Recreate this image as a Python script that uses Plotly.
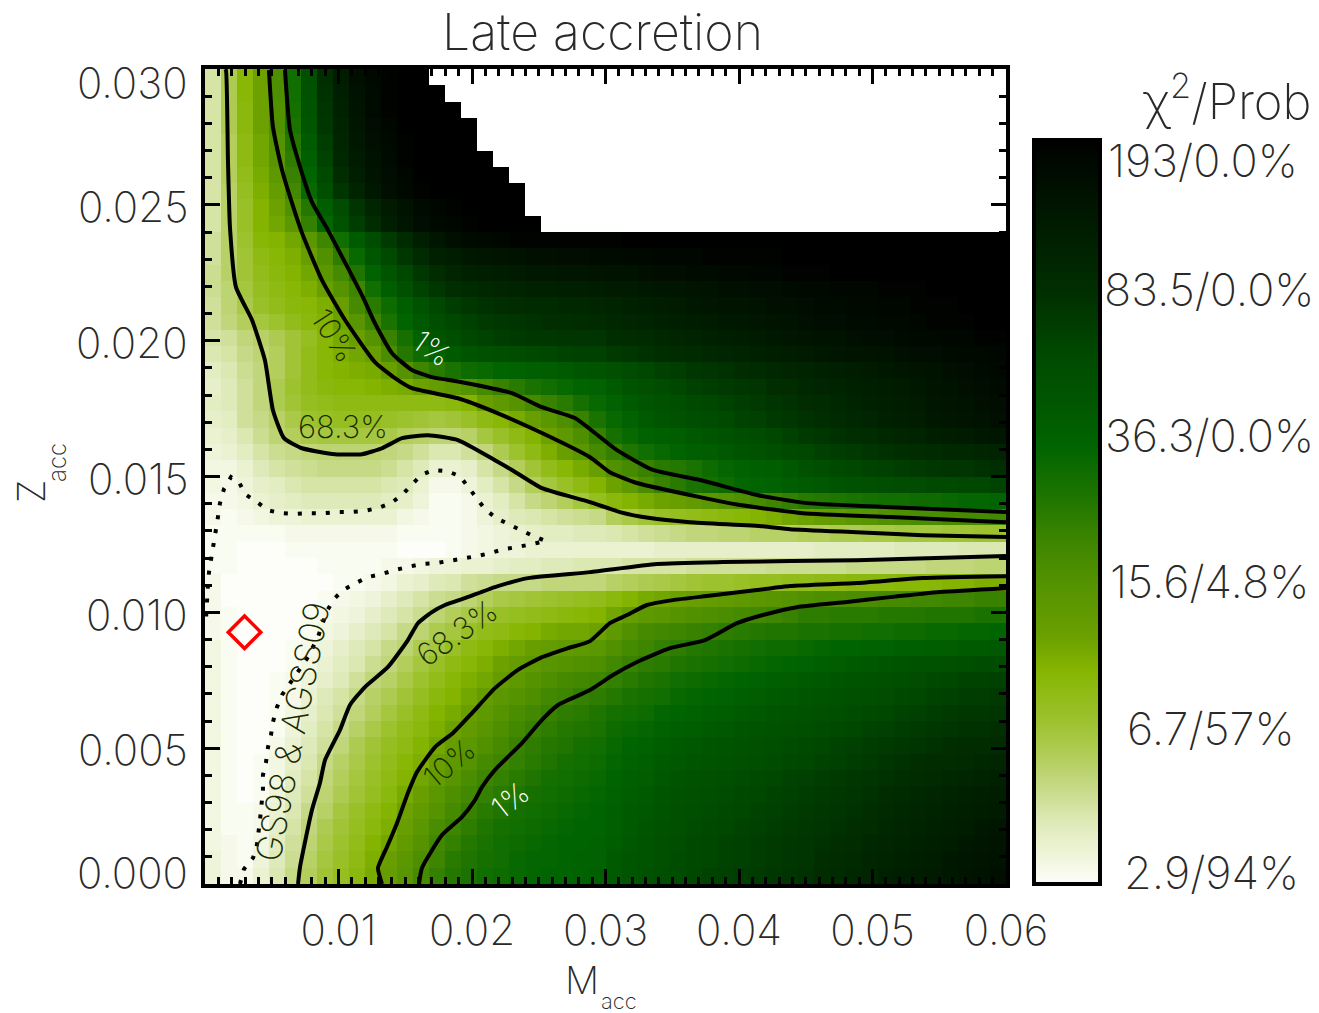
import plotly.graph_objects as go

FONT = "Inter"
WEIGHT = 200
TXT = "#2a2a2a"

m_acc_edges_step = 0.0012
z_acc_edges_step = 0.0006
m_acc_cells = [m_acc_edges_step * (i + 0.5) for i in range(50)]
z_acc_cells = [z_acc_edges_step * (j + 0.5) for j in range(50)]

# Position on the chi2 colour bar (0 = 2.9, 100 = 193; logarithmic), row 0 is Zacc = 0
chi2_level = [
[4,2,2,5,9,13,17,21,24,27,31,35,39,44,48,51,53,55,56,57,58,59,59,60,61,63,65,67,69,70,72,73,74,75,76,77,78,79,81,82,83,84,86,87,88,89,90,92,93,94],
[4,2,1,4,8,12,16,20,23,26,30,34,38,42,46,50,52,54,55,57,58,58,59,60,60,63,65,66,68,70,71,72,73,74,75,76,77,78,80,81,82,84,85,86,87,88,90,91,92,93],
[3,2,1,3,7,11,15,19,22,25,29,32,36,40,45,48,51,53,55,56,57,58,59,59,60,62,64,66,68,69,71,72,73,74,75,76,77,78,79,80,81,83,84,85,86,87,88,90,91,92],
[3,1,1,2,6,10,14,18,21,24,27,30,34,38,43,46,49,52,54,55,56,57,58,59,59,61,63,65,67,68,70,71,72,73,74,75,76,77,78,79,80,81,83,84,85,86,87,88,90,91],
[3,1,1,2,5,9,13,16,20,23,26,29,33,36,40,44,47,50,52,54,55,56,57,58,59,61,63,64,66,68,69,70,71,72,73,74,75,76,77,78,79,80,82,83,84,85,86,87,88,89],
[3,1,0,1,4,8,11,15,18,21,24,27,31,34,38,42,45,48,50,52,54,55,56,57,58,60,62,63,65,67,68,69,70,71,72,73,74,75,76,77,78,79,81,82,83,84,85,86,87,88],
[3,1,0,1,3,7,10,14,17,20,23,26,29,32,35,39,43,46,48,50,52,54,55,56,57,59,61,62,64,66,67,68,69,70,71,72,73,74,75,76,77,78,79,80,81,82,83,84,85,86],
[3,1,0,1,3,6,9,13,16,19,22,25,28,30,34,37,40,44,46,48,50,52,54,55,56,58,60,61,63,64,65,66,67,68,69,70,71,72,73,74,75,76,78,79,80,81,81,82,83,84],
[3,1,0,0,2,5,8,11,14,18,21,24,26,29,32,35,38,41,44,47,49,51,52,54,55,57,59,60,62,63,64,65,66,67,68,69,70,71,72,73,74,75,76,77,78,79,80,81,81,82],
[3,1,0,0,1,4,7,10,13,16,19,22,25,27,30,33,36,39,42,45,47,49,51,52,53,56,57,58,60,61,62,63,64,65,66,67,68,69,70,71,72,73,74,75,76,77,78,79,79,80],
[3,1,0,0,1,3,6,9,11,14,17,20,23,26,29,31,34,37,40,43,45,47,49,50,52,54,55,56,58,59,60,61,62,63,64,65,66,67,68,69,70,71,72,73,74,75,76,77,77,78],
[3,1,0,0,1,2,5,8,10,13,16,18,21,24,27,29,32,35,38,40,42,45,46,48,49,51,53,54,55,57,58,59,60,61,62,63,64,65,66,67,68,69,70,71,72,73,74,75,75,76],
[3,1,0,0,1,2,4,6,8,11,14,16,19,22,25,28,30,32,35,37,40,42,44,45,46,48,50,52,53,55,56,57,58,59,60,61,62,63,64,65,66,67,68,69,70,71,72,73,73,74],
[3,1,0,0,0,1,3,5,7,9,12,14,17,20,23,26,28,30,33,35,37,39,40,41,42,45,47,49,50,52,53,54,55,56,57,58,59,60,61,62,63,64,65,66,67,67,68,69,70,70],
[3,1,0,0,0,1,2,4,6,8,10,13,15,18,20,23,26,28,30,32,34,35,36,37,38,41,44,46,48,49,51,52,53,54,55,56,56,57,58,59,59,60,60,61,61,62,62,63,63,64],
[2,1,0,0,0,0,1,3,4,6,8,10,13,15,18,20,23,25,26,28,29,31,32,32,33,37,41,44,45,46,47,48,49,50,51,52,52,53,53,54,54,55,55,56,56,57,57,58,58,59],
[2,1,0,0,0,0,1,2,3,4,6,8,10,12,15,17,19,21,23,24,25,26,27,28,29,32,35,37,38,40,41,42,43,44,45,46,47,49,49,50,50,50,51,51,51,52,52,52,53,53],
[2,0,0,0,0,0,0,1,2,3,4,6,8,10,12,13,15,17,19,20,21,22,23,24,25,27,29,31,32,33,34,35,36,37,38,39,40,41,42,42,43,43,44,44,45,45,46,46,47,47],
[2,0,0,0,0,0,0,0,1,1,2,3,5,6,8,9,11,12,13,13,13,14,14,14,14,16,17,18,19,20,21,22,22,23,24,24,25,25,26,26,27,27,27,28,28,28,29,29,30,30],
[1,1,0,0,0,0,0,1,1,1,1,2,2,3,4,4,5,5,6,7,7,8,8,9,9,9,10,10,10,10,11,11,11,11,11,12,12,12,12,12,13,13,13,13,13,14,14,14,15,15],
[1,1,0,0,0,1,1,1,1,1,1,1,0,0,0,1,2,3,4,4,5,5,5,5,5,5,5,5,6,6,6,6,6,6,6,6,6,6,7,7,7,7,7,8,8,8,8,9,9,9],
[1,1,1,1,1,2,2,2,2,2,2,2,1,1,1,1,2,3,4,5,6,7,7,8,8,9,10,11,12,13,14,14,15,15,16,16,16,17,17,18,18,19,19,20,20,20,21,21,22,22],
[2,1,2,3,4,4,5,5,5,5,5,5,3,2,1,1,2,4,6,8,9,10,11,12,13,17,19,21,23,24,25,26,27,28,29,30,32,33,35,36,38,39,41,42,43,43,44,44,44,45],
[2,2,3,5,6,7,8,8,8,8,8,7,6,4,1,1,2,5,7,10,13,15,17,20,24,27,29,31,33,34,36,38,40,42,44,46,48,50,51,52,53,54,55,55,56,56,57,58,58,59],
[3,2,4,6,7,9,10,10,10,10,10,9,8,5,2,2,4,7,10,13,17,20,23,26,29,33,37,43,47,50,53,54,56,58,59,60,62,63,64,66,67,68,69,70,70,71,71,72,72,73],
[3,3,5,8,10,11,12,13,13,13,13,12,10,8,5,5,6,10,13,17,21,25,28,31,34,41,44,47,50,51,53,56,58,60,61,62,64,67,69,71,72,73,74,75,76,77,78,78,79,80],
[4,5,7,10,12,13,14,15,15,15,15,14,13,11,9,9,11,14,18,22,26,30,34,38,44,48,52,55,57,59,61,62,64,66,67,69,71,72,74,75,76,78,79,80,81,82,83,83,84,85],
[5,6,9,12,15,17,19,20,20,20,20,19,17,16,15,15,16,20,23,26,29,33,37,42,48,54,57,60,61,62,64,65,67,69,70,72,74,76,77,79,80,81,83,84,85,87,88,89,90,91],
[6,7,11,13,16,19,22,23,24,24,24,23,22,21,20,21,23,26,28,31,34,38,42,47,53,57,60,63,65,67,69,70,71,73,74,76,77,79,80,82,83,84,86,87,88,90,91,92,93,94],
[7,8,11,14,18,21,24,25,26,26,26,26,26,26,26,27,29,34,37,40,44,47,50,54,57,60,63,65,67,69,71,72,73,75,76,78,79,81,82,83,85,86,87,88,89,91,92,93,94,95],
[6,8,11,14,18,22,25,27,28,28,29,30,31,33,35,37,40,44,47,50,53,55,57,59,60,63,66,68,70,72,74,75,76,77,78,80,81,83,84,85,86,87,88,89,90,92,93,94,95,96],
[7,9,12,14,17,21,25,28,29,30,31,34,40,46,50,53,56,57,59,60,61,62,63,65,66,68,70,72,74,75,77,78,79,81,82,83,84,85,86,87,88,89,90,91,92,93,94,95,96,97],
[9,10,13,15,17,21,25,28,30,32,34,43,51,56,60,63,66,68,69,70,71,72,73,74,74,76,77,79,80,81,82,83,84,85,86,87,88,89,90,91,92,92,93,94,95,95,96,97,97,98],
[10,11,14,16,18,21,24,28,31,34,40,47,54,60,66,69,72,73,75,76,77,77,78,78,78,80,81,82,83,84,85,86,87,88,89,90,91,92,93,93,94,95,95,96,97,97,98,98,99,99],
[11,14,17,20,22,25,27,29,33,39,46,53,59,64,69,72,74,76,77,78,79,80,80,81,82,83,84,85,86,87,88,89,90,90,91,92,93,94,95,95,96,96,97,97,98,99,99,99,100,100],
[11,15,19,23,25,27,28,30,34,44,50,56,62,67,72,75,77,79,80,81,82,82,83,83,84,85,86,87,88,89,90,91,92,92,93,94,94,95,96,96,97,97,98,98,99,99,99,100,100,100],
[12,15,20,24,26,28,30,34,40,46,55,62,68,73,77,80,82,83,84,85,86,86,87,87,88,89,89,90,91,91,92,93,94,94,95,95,96,97,97,98,98,98,99,99,99,100,100,100,100,100],
[12,16,21,25,27,29,32,38,44,52,60,66,72,77,81,84,86,87,88,89,90,90,91,91,92,93,93,94,95,95,96,96,97,97,98,98,99,99,99,100,100,100,100,100,100,100,100,100,100,100],
[11,16,21,26,28,30,34,41,49,57,65,71,77,82,86,88,90,91,92,93,94,94,95,95,96,96,97,97,98,98,98,99,99,99,99,99,100,100,100,100,100,100,100,100,100,100,100,100,100,100],
[11,16,22,28,29,32,38,46,55,63,70,76,82,87,91,94,96,97,98,99,99,99,99,99,99,99,100,100,100,100,100,100,100,100,100,100,100,100,100,100,100,100,100,100,100,100,100,100,100,100],
[10,16,23,29,32,38,48,58,67,75,81,87,91,95,97,98,99,100,100,100,100],
[10,16,23,29,33,41,51,62,70,78,84,89,93,96,98,99,100,100,100,100],
[10,16,24,30,35,45,57,69,78,85,90,94,97,99,100,100,100,100,100,100],
[10,17,25,31,37,47,59,71,81,87,92,95,98,100,100,100,100,100,100],
[10,17,26,32,39,49,61,73,83,89,93,96,99,100,100,100,100,100],
[10,17,26,32,40,51,63,75,84,90,94,97,99,100,100,100,100],
[10,18,27,33,41,53,65,77,85,91,95,98,100,100,100,100,100],
[10,18,27,33,41,54,66,78,86,92,96,99,100,100,100,100],
[10,18,28,33,42,55,67,79,87,93,96,99,100,100,100],
[10,18,28,33,42,55,68,80,88,94,97,99,100,100],
]

colour_stops = [
    (0.0, "#fdfef9"), (0.086, "#dde9b5"), (0.131, "#c5d985"), (0.176, "#b0cc55"),
    (0.22, "#9cc22e"), (0.288, "#85b500"), (0.332, "#6ba000"), (0.417, "#4f9000"),
    (0.46, "#3e8500"), (0.529, "#1a7300"), (0.589, "#006400"), (0.642, "#005800"),
    (0.709, "#004a00"), (0.795, "#002f00"), (0.884, "#001c00"), (0.973, "#000800"),
    (1.0, "#000000"),
]

# Contours: Macc and Zacc, in units of 1e-3
c68_top_m = [1.50,1.57,1.72,1.87,2.32,3.52,4.49,5.09,5.92,7.27,9.74,11.76,13.26,14.76,16.70,18.95,21.72,22.99,25.24,28.84,31.08,33.33,36.33,41.79,43.82,48.83,53.78,60]
c68_top_z = [30,29.96,26.64,24.18,21.97,20.76,19.28,17.44,16.41,16.04,15.82,15.82,16.04,16.41,16.52,16.34,15.60,15.24,14.57,14.06,13.69,13.47,13.32,13.17,13.06,12.95,12.84,12.77]
c10_top_m = [4.79,5.09,5.77,6.52,7.27,8.76,10.49,12.73,14.23,15.50,18.95,21.72,25.24,28.84,30.33,32.36,37.08,40.07,44.79,51.31,60]
c10_top_z = [29.96,27.86,26.28,25.06,23.96,22.23,20.76,19.21,18.62,18.25,17.88,17.37,16.60,15.71,15.16,14.76,14.24,13.95,13.65,13.51,13.32]
c1_top_m = [5.99,6.37,7.27,8.01,9.21,11.83,12.73,14.01,15.50,17.00,19.25,22.99,25.24,27.71,29.21,30.86,33.56,37.08,41.34,45.09,51.31,60]
c1_top_z = [29.96,27.75,26.16,25.10,24.07,21.60,20.64,19.54,18.92,18.66,18.47,18.07,17.55,17.15,16.60,15.97,15.24,14.87,14.32,14.02,13.87,13.69]
c68_low_m = [6.97,7.12,8.01,8.61,8.99,10.11,10.86,11.98,13.71,15.20,15.95,17.00,17.98,19.47,21.72,24.19,28.84,33.85,38.80,48.83,60]
c68_low_z = [0,0.63,2.72,3.72,4.56,5.67,6.59,7.25,7.99,8.98,9.60,10.01,10.27,10.52,10.93,11.26,11.48,11.78,11.85,11.92,12.07]
c10_low_m = [13.26,12.96,13.63,14.38,15.20,15.88,17.23,18.58,20.00,21.72,23.44,25.24,27.19,28.84,30.33,31.61,33.11,35.05,37.60,41.34,43.82,48.83,53.78,60]
c10_low_z = [0,0.59,1.36,2.24,3.35,4.12,5.04,5.56,6.29,7.21,7.88,8.35,8.68,8.94,9.60,9.90,10.27,10.45,10.60,10.82,10.97,11.08,11.26,11.33]
c1_low_m = [16.03,16.25,17.75,19.25,20.22,20.75,21.72,23.74,25.24,26.44,28.84,30.56,32.36,34.83,37.45,39.85,41.79,44.34,48.09,51.31,55.05,60]
c1_low_z = [0,0.59,1.80,2.47,3.09,3.57,4.20,5.19,6.04,6.59,7.14,7.69,8.17,8.68,8.98,9.60,9.90,10.19,10.38,10.56,10.75,10.89]
solar_m = [2.62,2.92,3.60,3.89,4.12,4.34,4.34,4.57,4.72,4.94,5.09,5.39,5.77,7.71,8.46,8.84,9.14,9.66,10.34,11.31,12.21,13.26,14.23,15.20,16.25,17.30,18.35,19.32,20.37,21.35,22.40,23.37,24.49,25.54,24.57,23.59,22.69,21.80,20.97,20.37,19.70,19.10,18.13,17.08,16.18,15.50,14.76,13.93,12.96,11.91,10.94,9.89,8.84,7.79,6.74,5.69,4.72,3.89,3.00,2.55,1.95,1.42,1.12,0.97,0.82,0.60,0.45,0.30,0.22,0.07]
solar_z = [0,0.55,0.96,1.44,2.36,3.46,4.01,4.49,5.04,5.48,5.96,6.51,6.96,8.35,9.09,9.60,10.05,10.49,10.82,11.08,11.30,11.41,11.56,11.67,11.78,11.81,11.89,12.00,12.07,12.18,12.33,12.40,12.51,12.62,12.81,13.03,13.25,13.47,13.80,14.20,14.61,15.01,15.20,15.24,15.05,14.68,14.32,14.02,13.84,13.73,13.69,13.69,13.65,13.65,13.62,13.65,13.76,14.06,14.35,14.79,14.98,14.54,14.02,13.51,13.03,12.51,12.03,11.48,11.00,9.70]

best_m = [2.96e-3]
best_z = [9.27e-3]

x_tick_vals = [0.01, 0.02, 0.03, 0.04, 0.05, 0.06]
x_tick_text = ["0.01", "0.02", "0.03", "0.04", "0.05", "0.06"]
y_tick_vals = [0.0, 0.005, 0.01, 0.015, 0.02, 0.025, 0.03]
y_tick_text = ["0.000", "0.005", "0.010", "0.015", "0.020", "0.025", "0.030"]
y_tick_shift = [12, -1, -2, -2, -2, -2, -14]

bar_labels = ["2.9/94%", "6.7/57%", "15.6/4.8%", "36.3/0.0%", "83.5/0.0%", "193/0.0%"]
bar_label_px = [(1211, 872), (1211, 728), (1209, 581), (1209, 435), (1209, 289), (1203, 160)]

W, H = 1319, 1013
def fx(p): return p / W
def fy(p): return 1 - p / H

z_grid = [row + [None] * (50 - len(row)) for row in chi2_level]
assert len(z_grid) == 50 and all(len(r) == 50 for r in z_grid)

fig = go.Figure()
fig.add_trace(go.Heatmap(
    x=m_acc_cells, y=z_acc_cells, z=z_grid, zmin=0, zmax=100,
    colorscale=[list(s) for s in colour_stops], hoverongaps=False,
    colorbar=dict(x=fx(1034), xanchor="left", xref="paper", y=fy(884), yanchor="bottom", yref="paper",
                  len=744 / H, lenmode="fraction", thickness=66, thicknessmode="pixels",
                  xpad=0, ypad=0, outlinewidth=4, outlinecolor="black", ticks="", showticklabels=False),
))

milli = lambda v: [a / 1000 for a in v]
for mx, zy in [(c68_top_m, c68_top_z), (c10_top_m, c10_top_z), (c1_top_m, c1_top_z),
               (c68_low_m, c68_low_z), (c10_low_m, c10_low_z), (c1_low_m, c1_low_z)]:
    fig.add_trace(go.Scatter(x=milli(mx), y=milli(zy), mode="lines", showlegend=False,
                             line=dict(color="black", width=4, shape="spline", smoothing=0.5)))
fig.add_trace(go.Scatter(x=milli(solar_m), y=milli(solar_z), mode="lines", showlegend=False,
                         line=dict(color="black", width=4, dash="4px,10px")))
fig.add_trace(go.Scatter(x=best_m, y=best_z, mode="markers", showlegend=False,
                         marker=dict(symbol="diamond-open", size=25, color="#ff0000", line=dict(color="#ff0000", width=3.5))))

def note(text, x, y, size, color=TXT, angle=0, **kw):
    d = dict(text=text, x=x, y=y, showarrow=False, textangle=angle,
             font=dict(family=FONT, size=size, color=color, weight=WEIGHT),
             xanchor="center", yanchor="middle")
    d.update(kw)
    return d

ann = [
    note("Late accretion", fx(602), fy(32), 50, xref="paper", yref="paper"),
    note("M", fx(582), fy(980), 38, xref="paper", yref="paper"),
    note("acc", fx(619), fy(1001), 22, xref="paper", yref="paper"),
    note("Z", fx(31), fy(492), 38, angle=-90, xref="paper", yref="paper"),
    note("acc", fx(57), fy(463), 24, angle=-90, xref="paper", yref="paper"),
    note("χ<sup>2</sup>/Prob", fx(1227), fy(98), 49, xref="paper", yref="paper"),
    note("10%", 0.00966, 0.02020, 30, angle=57, color="#1a2a00"),
    note("1%", 0.01700, 0.01972, 30, angle=35, color="#ffffff"),
    note("68.3%", 0.01034, 0.01685, 31, color="#1a2a00"),
    note("68.3%", 0.01887, 0.00924, 31, angle=-35, color="#1a2a00"),
    note("10%", 0.01828, 0.00445, 30, angle=-40, color="#1a2a00"),
    note("1%", 0.02284, 0.00309, 30, angle=-38, color="#ffffff"),
    note("GS98 & AGSS09", 0.00652, 0.00559, 35, angle=-79, color="#1a2a00"),
]
for t, v, s in zip(y_tick_text, y_tick_vals, y_tick_shift):
    ann.append(note(t, fx(190), v, 42, xref="paper", yref="y", xanchor="right", yshift=s))
for t, (px, py) in zip(bar_labels, bar_label_px):
    ann.append(note(t, fx(px), fy(py), 45, xref="paper", yref="paper"))

axis_common = dict(showgrid=False, zeroline=False, showline=True, linecolor="black", linewidth=4,
                   mirror="allticks", ticks="inside", ticklen=15, tickwidth=3, tickcolor="black")
fig.update_layout(
    width=W, height=H, margin=dict(l=0, r=0, t=0, b=0, autoexpand=False),
    paper_bgcolor="white", plot_bgcolor="white", showlegend=False, annotations=ann,
    xaxis=dict(domain=[fx(205), fx(1006)], range=[0, 0.06], tickmode="array", tickvals=x_tick_vals,
               ticktext=x_tick_text, ticklabelstandoff=7,
               tickfont=dict(family=FONT, size=42, color=TXT, weight=WEIGHT),
               minor=dict(dtick=0.001, tick0=0, ticks="inside", ticklen=7, tickwidth=3, tickcolor="black"),
               **axis_common),
    yaxis=dict(domain=[fy(884), fy(69)], range=[0, 0.03], tickmode="array", tickvals=y_tick_vals,
               showticklabels=False,
               minor=dict(dtick=0.001, tick0=0, ticks="inside", ticklen=7, tickwidth=3, tickcolor="black"),
               **axis_common),
)
fig.write_html("out.html", config={"displayModeBar": False},
               post_script="document.body.style.margin='0';document.body.style.overflow='hidden';")
